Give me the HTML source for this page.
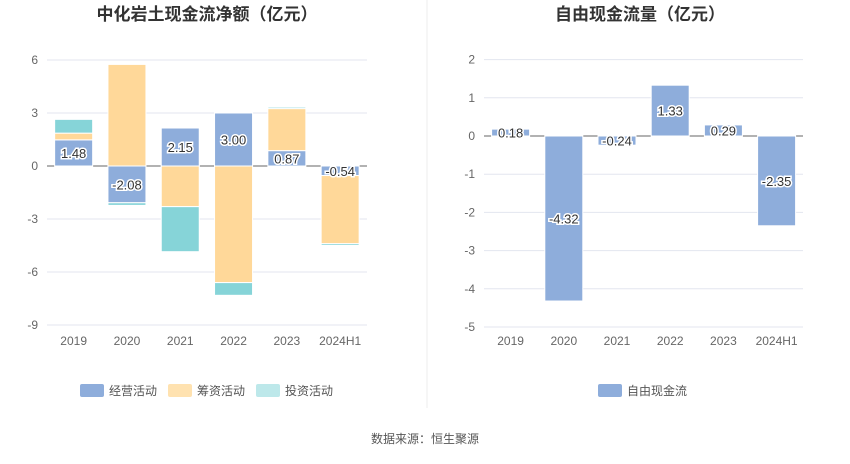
<!DOCTYPE html>
<html><head><meta charset="utf-8"><style>
body{margin:0;background:#fff;font-family:"Liberation Sans","Noto Sans CJK SC",sans-serif}
svg text{font-family:"Liberation Sans","Noto Sans CJK SC",sans-serif}
</style></head><body>
<svg id="s" width="850" height="459">
<text x="207" y="20" text-anchor="middle" font-size="17" font-weight="bold" fill="#333">中化岩土现金流净额（亿元）</text>
<text x="640" y="20" text-anchor="middle" font-size="17" font-weight="bold" fill="#333">自由现金流量（亿元）</text>
<line x1="427" y1="0" x2="427" y2="408" stroke="#eee"/>
<text x="425" y="443" text-anchor="middle" font-size="12" fill="#555">数据来源：恒生聚源</text>
<g>
<rect x="80" y="384" width="24" height="13" rx="2" fill="#8eaddb"/>
<text x="109" y="395" font-size="12" fill="#555">经营活动</text>
<rect x="168" y="384" width="24" height="13" rx="2" fill="#ffe2b0"/>
<text x="197" y="395" font-size="12" fill="#555">筹资活动</text>
<rect x="256" y="384" width="24" height="13" rx="2" fill="#bde8ea"/>
<text x="285" y="395" font-size="12" fill="#555">投资活动</text>
</g>
<g>
<rect x="598" y="384" width="24" height="13" rx="2" fill="#8eaddb"/>
<text x="627" y="395" font-size="12" fill="#555">自由现金流</text>
</g>
</svg>
<script>
const cats=["2019","2020","2021","2022","2023","2024H1"];
const operating=[1.48,-2.08,2.15,3.00,0.87,-0.54];
const financing=[0.38,5.75,-2.30,-6.60,2.38,-3.86];
const investing=[0.78,-0.15,-2.55,-0.72,0.08,-0.10];
const leftTicks=[6,3,0,-3,-6,-9];
const fcf=[0.18,-4.32,-0.24,1.33,0.29,-2.35];
const rightTicks=[2,1,0,-1,-2,-3,-4,-5];
const S=document.getElementById('s');
const NS='http://www.w3.org/2000/svg';
function mk(t,a,txt){const e=document.createElementNS(NS,t);for(const k in a)e.setAttribute(k,a[k]);if(txt!==undefined)e.textContent=txt;S.appendChild(e);return e;}
// left
const ly=v=>166-(v)*(106/6);
const lx=i=>47+53.3*(i+0.5);
leftTicks.forEach(t=>{
 const g=mk('line',{x1:47,x2:367,y1:ly(t),y2:ly(t),stroke:t===0?'#666':'#e3e6ef'});
 
 
 const l=mk('text',{x:38,y:ly(t)+4,'text-anchor':'end','font-size':12,fill:'#666'},String(t));
 
 
});
const colors=['#8eaddb','#ffd899','#86d4d8'];
const series=[operating,financing,investing];
const names=['operating','financing','investing'];
cats.forEach((c,i)=>{
 let pos=0,neg=0;
 series.forEach((s,k)=>{
  const v=s[i];let y0,y1;
  if(v>=0){y0=pos;y1=pos+v;pos=y1;}else{y0=neg;y1=neg+v;neg=y1;}
  const r=mk('rect',{x:lx(i)-19,width:38,y:Math.min(ly(y0),ly(y1)),height:Math.abs(ly(y0)-ly(y1)),fill:colors[k],stroke:'#fff','stroke-width':1});
  
  
 });
 const t=mk('text',{x:lx(i),y:ly(operating[i]/2)+5,'text-anchor':'middle','font-size':13,fill:'#333',stroke:'#fff','stroke-width':3,'paint-order':'stroke'},operating[i].toFixed(2));
 
 
 const x=mk('text',{x:lx(i),y:345,'text-anchor':'middle','font-size':12,fill:'#666'},c);
 
 
});
// right
const ry=v=>136-v*38.2;
const rx=i=>484+53.2*(i+0.5);
rightTicks.forEach(t=>{
 const g=mk('line',{x1:484,x2:803,y1:ry(t),y2:ry(t),stroke:t===0?'#666':'#e3e6ef'});
 
 
 const l=mk('text',{x:475,y:ry(t)+4,'text-anchor':'end','font-size':12,fill:'#666'},String(t));
 
 
});
cats.forEach((c,i)=>{
 const v=fcf[i];
 const r=mk('rect',{x:rx(i)-19,width:38,y:Math.min(ry(0),ry(v)),height:Math.abs(ry(v)-ry(0)),fill:'#8eaddb',stroke:'#fff','stroke-width':1});
 
 
 const t=mk('text',{x:rx(i),y:ry(v/2)+5,'text-anchor':'middle','font-size':13,fill:'#333',stroke:'#fff','stroke-width':3,'paint-order':'stroke'},v.toFixed(2));
 
 
 const x=mk('text',{x:rx(i),y:345,'text-anchor':'middle','font-size':12,fill:'#666'},c);
 
 
});
</script>
</body></html>
